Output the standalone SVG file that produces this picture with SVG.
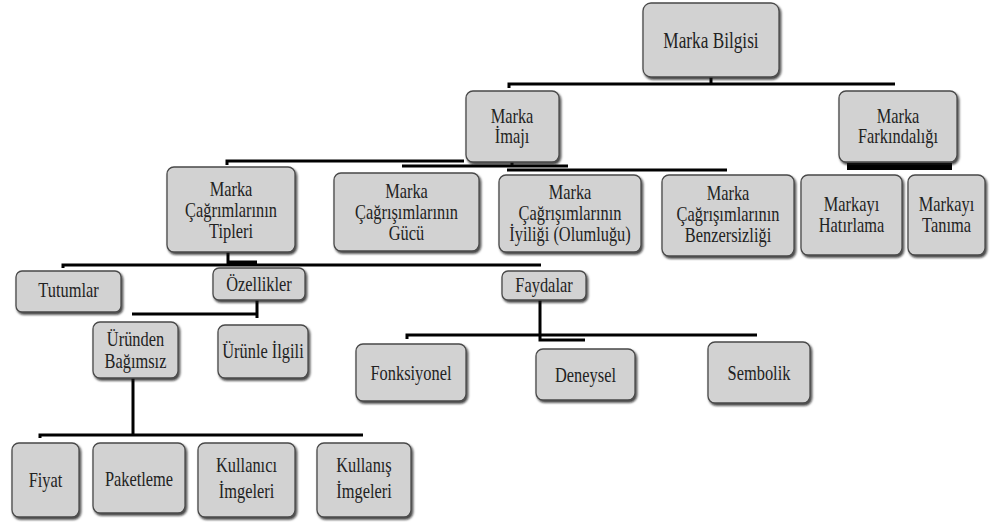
<svg xmlns="http://www.w3.org/2000/svg" width="991" height="525" viewBox="0 0 991 525">
<style>
.box{fill:#d2d2d2;stroke:#4a4a4a;stroke-width:1.3;filter:url(#sh)}
text{font-family:'Liberation Serif','DejaVu Serif',serif;font-size:20px;fill:#222;text-anchor:middle}
.c{stroke:#000;stroke-width:3;fill:none}
</style>
<defs>
<filter id="sh" x="-10%" y="-10%" width="125%" height="130%">
<feDropShadow dx="1.5" dy="2" stdDeviation="1" flood-color="#111" flood-opacity="0.8"/>
</filter>
</defs>
<rect width="991" height="525" fill="#fff"/>
<g id="connectors">
<path class="c" d="M509 88 V84 H895 M711 77 V84"/>
<path class="c" d="M227 165 V161 H464 M402 166 H568 M507 170 H727 M512 162 V166"/>
<rect x="847" y="163" width="105" height="7" fill="#000"/>
<path class="c" d="M228 252 V264 M228 262 H257 M63 268 V265 H541"/>
<path class="c" d="M257 300 V318 M132 314 H257"/>
<path class="c" d="M133 378 V435 M40 438 V435 H363"/>
<path class="c" d="M540 300 V340 H585 M407 339 V335 H757"/>
</g>
<g id="n1"><rect class="box" x="643" y="3" width="136" height="74" rx="8"/><text font-family="Liberation Serif, serif" style="font-size:23px" transform="translate(711,48) scale(0.75,1)">Marka Bilgisi</text></g>
<g id="n2"><rect class="box" x="466" y="91" width="93" height="71" rx="7"/><text transform="translate(512,123) scale(0.82,1)"><tspan x="0">Marka</tspan><tspan x="0" dy="20">İmajı</tspan></text></g>
<g id="n3"><rect class="box" x="839" y="91" width="118" height="71" rx="7"/><text transform="translate(898,123) scale(0.82,1)"><tspan x="0">Marka</tspan><tspan x="0" dy="20">Farkındalığı</tspan></text></g>
<g id="n4"><rect class="box" x="167" y="167" width="128" height="85" rx="7"/><text transform="translate(231,196) scale(0.82,1)"><tspan x="0">Marka</tspan><tspan x="0" dy="21">Çağrımlarının</tspan><tspan x="0" dy="21">Tipleri</tspan></text></g>
<g id="n5"><rect class="box" x="334" y="173" width="145" height="78" rx="7"/><text transform="translate(406.5,198) scale(0.82,1)"><tspan x="0">Marka</tspan><tspan x="0" dy="21">Çağrışımlarının</tspan><tspan x="0" dy="21">Gücü</tspan></text></g>
<g id="n6"><rect class="box" x="499" y="175" width="142" height="77" rx="7"/><text transform="translate(570,199) scale(0.82,1)"><tspan x="0">Marka</tspan><tspan x="0" dy="21">Çağrışımlarının</tspan><tspan x="0" dy="21">İyiliği (Olumluğu)</tspan></text></g>
<g id="n7"><rect class="box" x="662" y="175" width="132" height="81" rx="7"/><text transform="translate(728,200) scale(0.82,1)"><tspan x="0">Marka</tspan><tspan x="0" dy="21">Çağrışımlarının</tspan><tspan x="0" dy="21">Benzersizliği</tspan></text></g>
<g id="n8"><rect class="box" x="801" y="175" width="101" height="80" rx="7"/><text transform="translate(851.5,211) scale(0.82,1)"><tspan x="0">Markayı</tspan><tspan x="0" dy="21">Hatırlama</tspan></text></g>
<g id="n9"><rect class="box" x="908" y="175" width="77" height="80" rx="7"/><text transform="translate(946.5,211) scale(0.82,1)"><tspan x="0">Markayı</tspan><tspan x="0" dy="21">Tanıma</tspan></text></g>
<g id="n10"><rect class="box" x="16" y="271" width="105" height="41" rx="6"/><text transform="translate(68.5,297) scale(0.82,1)">Tutumlar</text></g>
<g id="n11"><rect class="box" x="213" y="268" width="92" height="32" rx="6"/><text transform="translate(259,291) scale(0.82,1)">Özellikler</text></g>
<g id="n12"><rect class="box" x="502" y="271" width="84" height="29" rx="6"/><text transform="translate(544,292) scale(0.82,1)">Faydalar</text></g>
<g id="n13"><rect class="box" x="93" y="322" width="85" height="56" rx="7"/><text transform="translate(135.5,346) scale(0.82,1)"><tspan x="0">Üründen</tspan><tspan x="0" dy="22">Bağımsız</tspan></text></g>
<g id="n14"><rect class="box" x="218" y="325" width="90" height="53" rx="7"/><text transform="translate(263,358) scale(0.82,1)">Ürünle İlgili</text></g>
<g id="n15"><rect class="box" x="356" y="344" width="110" height="57" rx="7"/><text transform="translate(411,380) scale(0.82,1)">Fonksiyonel</text></g>
<g id="n16"><rect class="box" x="536" y="349" width="99" height="51" rx="7"/><text transform="translate(585.5,382) scale(0.82,1)">Deneysel</text></g>
<g id="n17"><rect class="box" x="708" y="342" width="102" height="61" rx="7"/><text transform="translate(759,380) scale(0.82,1)">Sembolik</text></g>
<g id="n18"><rect class="box" x="12" y="443" width="67" height="74" rx="7"/><text transform="translate(45.5,487) scale(0.82,1)">Fiyat</text></g>
<g id="n19"><rect class="box" x="93" y="443" width="92" height="70" rx="7"/><text transform="translate(139,486) scale(0.82,1)">Paketleme</text></g>
<g id="n20"><rect class="box" x="198" y="443" width="97" height="74" rx="7"/><text transform="translate(246.5,472) scale(0.82,1)"><tspan x="0">Kullanıcı</tspan><tspan x="0" dy="26">İmgeleri</tspan></text></g>
<g id="n21"><rect class="box" x="317" y="443" width="94" height="74" rx="7"/><text transform="translate(364,472) scale(0.82,1)"><tspan x="0">Kullanış</tspan><tspan x="0" dy="26">İmgeleri</tspan></text></g>
</svg>
